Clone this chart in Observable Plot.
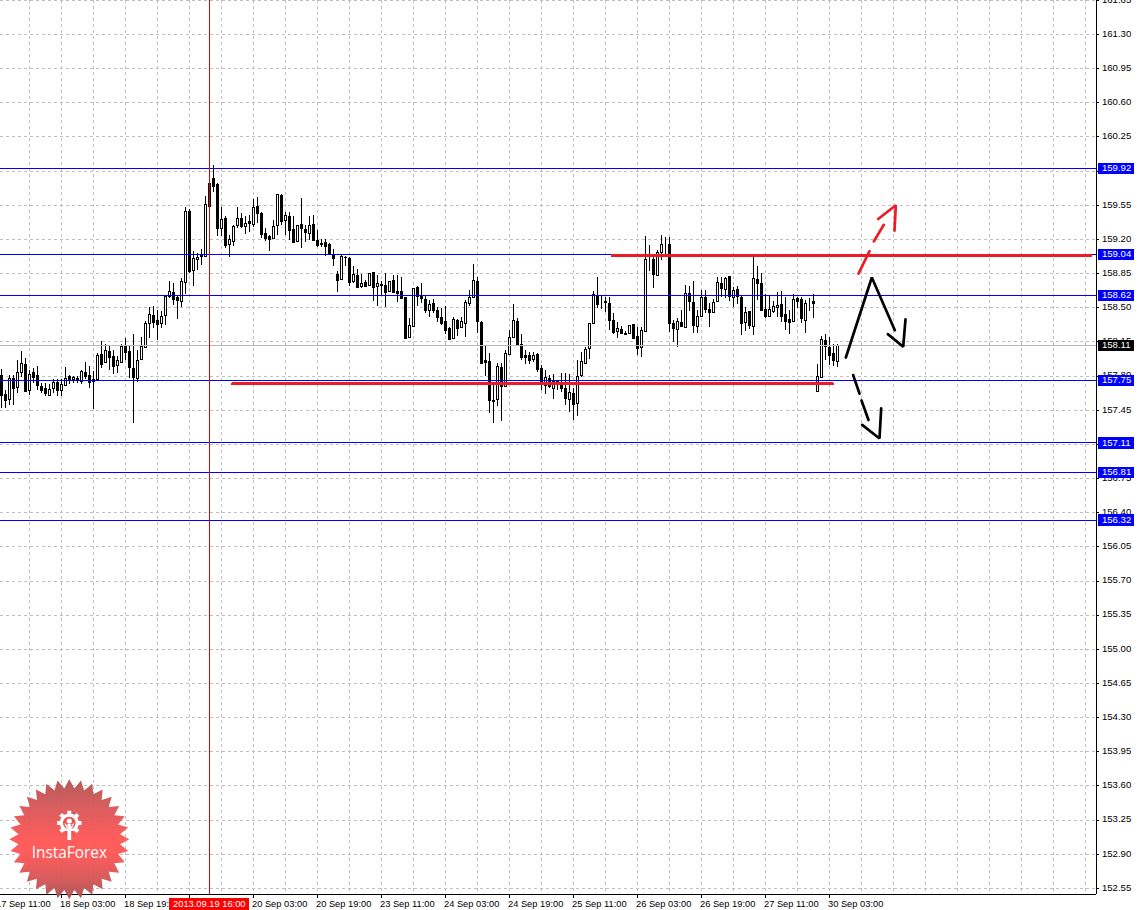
<!DOCTYPE html>
<html>
<head>
<meta charset="utf-8">
<style>html,body{margin:0;padding:0;background:#fff}svg{display:block}</style>
<script src="https://cdn.jsdelivr.net/npm/d3@7"></script>
<script src="https://cdn.jsdelivr.net/npm/@observablehq/plot@0.6"></script>
</head>
<body>
<div id="chart"></div>
<script>
const highs = [
157.87,157.65,157.81,157.81,157.96,158.05,157.98,157.86,157.88,157.90,
157.72,157.72,157.71,157.76,157.76,157.76,157.89,157.81,157.80,157.80,
157.86,157.94,157.90,157.85,158.03,158.15,158.12,158.11,158.06,158.00,
158.12,158.18,158.10,158.23,158.06,158.20,158.36,158.50,158.51,158.47,
158.46,158.63,158.77,158.75,158.63,158.80,159.53,159.51,159.08,159.06,
159.10,159.64,159.80,159.96,159.77,159.53,159.43,159.24,159.34,159.53,
159.47,159.43,159.45,159.61,159.63,159.48,159.31,159.24,159.39,159.66,
159.66,159.48,159.48,159.43,159.34,159.62,159.34,159.43,159.45,159.29,
159.20,159.20,159.16,159.10,158.87,159.04,159.03,159.01,158.92,158.89,
158.84,158.78,158.85,158.86,158.83,158.77,158.85,158.77,158.83,158.83,
158.81,158.61,158.39,158.70,158.72,158.75,158.63,158.57,158.58,158.50,
158.49,158.51,158.30,158.40,158.38,158.40,158.57,158.68,158.94,158.81,
158.36,158.10,158.03,157.72,157.93,157.93,158.06,158.27,158.53,158.39,
158.23,158.06,158.04,158.04,158.03,157.91,157.86,157.81,157.82,157.75,
157.83,157.83,157.82,157.67,157.96,158.04,158.09,158.34,158.67,158.81,
158.62,158.61,158.61,158.44,158.35,158.31,158.26,158.32,158.33,158.30,
158.30,159.23,159.14,159.04,159.09,159.24,159.22,159.22,158.37,158.39,
158.47,158.73,158.72,158.77,158.47,158.68,158.68,158.54,158.58,158.81,
158.81,158.81,158.82,158.71,158.72,158.63,158.50,158.46,159.05,158.92,
158.85,158.64,158.63,158.56,158.66,158.67,158.60,158.47,158.64,158.61,
158.61,158.57,158.59,158.64,157.92,158.21,158.23,158.20,158.12,158.12];
const opens = [
157.81,157.61,157.56,157.77,157.68,157.84,157.92,157.65,157.84,157.81,
157.69,157.67,157.60,157.67,157.73,157.65,157.70,157.80,157.76,157.78,
157.74,157.84,157.81,157.76,157.76,158.02,157.94,158.05,158.00,157.91,
157.94,158.11,158.05,157.88,157.78,157.97,158.09,158.34,158.42,158.37,
158.34,158.42,158.62,158.66,158.60,158.56,158.76,159.49,158.88,158.99,
159.03,159.03,159.77,159.82,159.76,159.31,159.41,159.15,159.18,159.34,
159.41,159.33,159.38,159.35,159.54,159.47,159.26,159.23,159.21,159.34,
159.65,159.39,159.44,159.30,159.18,159.35,159.30,159.26,159.35,159.19,
159.16,159.17,159.15,159.05,158.84,158.79,159.02,159.00,158.77,158.83,
158.72,158.76,158.73,158.86,158.72,158.74,158.73,158.67,158.78,158.67,
158.67,158.60,158.20,158.31,158.71,158.62,158.58,158.47,158.54,158.47,
158.40,158.36,158.29,158.18,158.37,158.30,158.34,158.54,158.60,158.77,
158.35,157.96,157.95,157.55,157.56,157.89,157.69,158.02,158.20,158.36,
158.12,158.01,158.01,157.97,158.02,157.88,157.70,157.78,157.67,157.74,
157.73,157.67,157.56,157.62,157.52,157.81,157.93,158.08,158.34,158.63,
158.55,158.56,158.54,158.37,158.26,158.28,158.24,158.24,158.33,158.21,
158.09,158.26,159.00,158.99,158.83,159.07,159.15,159.15,158.34,158.28,
158.35,158.30,158.65,158.55,158.31,158.41,158.60,158.48,158.45,158.56,
158.75,158.69,158.82,158.61,158.69,158.61,158.35,158.46,158.31,158.79,
158.75,158.48,158.41,158.46,158.50,158.53,158.43,158.38,158.36,158.59,
158.58,158.37,158.55,158.56,157.64,157.79,158.16,158.09,158.03,157.95];
const lows = [
157.47,157.47,157.50,157.50,157.62,157.79,157.64,157.60,157.72,157.65,
157.62,157.59,157.59,157.62,157.59,157.59,157.69,157.71,157.72,157.72,
157.71,157.76,157.67,157.46,157.76,157.88,157.93,157.86,157.82,157.83,
157.94,157.96,157.78,157.31,157.73,157.96,158.08,158.19,158.29,158.16,
158.29,158.32,158.59,158.52,158.38,158.50,158.64,158.85,158.72,158.88,
158.93,159.03,159.53,159.68,159.23,159.23,159.11,159.01,159.13,159.31,
159.31,159.25,159.27,159.32,159.36,159.21,159.18,159.08,159.20,159.24,
159.34,159.24,159.19,159.16,159.17,159.11,159.17,159.19,159.18,159.12,
159.12,159.03,159.05,158.92,158.66,158.78,158.92,158.72,158.75,158.70,
158.70,158.71,158.72,158.56,158.51,158.63,158.50,158.66,158.66,158.55,
158.58,158.18,158.18,158.30,158.51,158.54,158.44,158.40,158.44,158.35,
158.32,158.23,158.17,158.17,158.21,158.29,158.20,158.51,158.59,158.24,
157.92,157.80,157.42,157.31,157.49,157.33,157.68,158.01,158.18,158.10,
157.96,157.92,157.92,157.94,157.84,157.65,157.61,157.67,157.56,157.65,
157.63,157.50,157.43,157.34,157.39,157.79,157.92,157.97,158.33,158.49,
158.48,158.45,158.27,158.23,158.19,158.23,158.22,158.23,158.18,158.01,
157.99,158.26,158.87,158.70,158.82,158.98,159.04,158.25,158.14,158.09,
158.30,158.29,158.46,158.24,158.24,158.40,158.44,158.30,158.44,158.55,
158.61,158.59,158.56,158.50,158.53,158.22,158.26,158.28,158.22,158.57,
158.46,158.39,158.40,158.44,158.40,158.35,158.27,158.23,158.35,158.49,
158.34,158.24,158.46,158.39,157.63,157.79,157.96,157.91,157.90,157.89];
const closes = [
157.60,157.55,157.77,157.67,157.84,157.93,157.64,157.82,157.79,157.70,
157.65,157.62,157.66,157.73,157.65,157.71,157.78,157.76,157.79,157.75,
157.85,157.80,157.73,157.74,158.01,157.92,158.06,157.99,157.90,157.96,
158.10,158.04,157.89,157.79,157.96,158.10,158.34,158.43,158.35,158.33,
158.41,158.62,158.67,158.58,158.57,158.77,159.49,158.87,159.00,159.02,
159.04,159.56,159.54,159.74,159.31,159.40,159.14,159.20,159.33,159.41,
159.33,159.36,159.36,159.53,159.47,159.25,159.21,159.20,159.33,159.66,
159.38,159.45,159.29,159.17,159.34,159.31,159.27,159.34,159.19,159.14,
159.15,159.13,159.06,159.00,158.78,159.03,159.01,158.76,158.84,158.71,
158.75,158.72,158.85,158.71,158.75,158.73,158.66,158.77,158.66,158.65,
158.59,158.19,158.32,158.70,158.62,158.59,158.47,158.53,158.47,158.40,
158.34,158.27,158.17,158.38,158.29,158.36,158.55,158.60,158.78,158.36,
157.93,157.94,157.55,157.54,157.90,157.69,158.03,158.20,158.37,158.11,
157.99,157.99,157.96,158.01,157.87,157.72,157.79,157.69,157.74,157.73,
157.67,157.57,157.63,157.51,157.80,157.95,158.07,158.34,158.64,158.53,
158.55,158.55,158.37,158.25,158.29,158.24,158.23,158.32,158.19,158.08,
158.27,158.99,159.00,158.84,159.07,159.15,159.15,158.34,158.29,158.36,
158.31,158.65,158.56,158.32,158.41,158.61,158.48,158.45,158.55,158.76,
158.70,158.80,158.62,158.68,158.62,158.34,158.45,158.32,158.80,158.75,
158.47,158.41,158.48,158.51,158.52,158.41,158.36,158.35,158.58,158.56,
158.39,158.54,158.55,158.54,157.80,158.17,158.10,158.01,157.96,158.11];

const priceTicks = [161.65,161.30,160.95,160.60,160.25,159.90,159.55,159.20,158.85,158.50,158.15,157.80,157.45,157.10,156.75,156.40,156.05,155.70,155.35,155.00,154.65,154.30,153.95,153.60,153.25,152.90,152.55];
const levelLines = [159.92,159.04,158.62,157.75,157.11,156.81,156.32];
const lastPrice = 158.11;
const dateIndex = [0,16,32,64,80,96,112,128,144,160,176,192,208];
const dateLabels = ["17 Sep 11:00","18 Sep 03:00","18 Sep 19:00","20 Sep 03:00","20 Sep 19:00","23 Sep 11:00","24 Sep 03:00","24 Sep 19:00","25 Sep 11:00","26 Sep 03:00","26 Sep 19:00","27 Sep 11:00","30 Sep 03:00"];
const cursorIndex = 53;
const cursorLabel = "2013.09.19 16:00";
const gridIndex = d3.range(8,273,8);
const axisTickIndex = d3.range(0,209,16);

const supportLine = [{i:58.75,p:157.72},{i:208.75,p:157.72}];
const resistanceLine = [{i:153.75,p:159.035},{i:273.25,p:159.035}];
const redArrow = [[0,215.25,158.85],[0,218,159.08],[1,219.08,159.18],[1,221.58,159.35],[2,220.17,159.41],[2,224.58,159.55],[2,224.25,159.29]];
const blackUp = [[0,212.08,157.99],[0,218.58,158.81],[0,224.33,158.27],[1,222.58,158.23],[1,226.42,158.10],[1,227,158.38]];
const blackDown = [[0,213.92,157.81],[0,215.5,157.62],[1,216,157.55],[1,217.75,157.35],[2,216.17,157.30],[2,220.5,157.16],[2,220.92,157.47]];

const bars = highs.map((h,k)=>({i:k+1,h,o:opens[k],l:lows[k],c:closes[k]}));
const rising = bars.filter(d=>d.c>=d.o);
const falling = bars.filter(d=>d.c<d.o);
const bodyTop = d=>Math.max(d.o,d.c), bodyBot = d=>Math.min(d.o,d.c);

const font = "'Liberation Sans', sans-serif";
const xAxisEnd = 274.75, xLabel = 276.1, xBoxL = 275.25, xBoxR = 284.25;
const yTop = 161.6484, yAxisEnd = 152.4877;
const BLUE = "#0000ff", RED = "#ed1c24", GRID = "#c0c0c0";
const crisp = {shapeRendering:"crispEdges"};

function logo(){
  const cx=69.3, cy=839.3, R=60, r=51, n=32;
  const g = d3.create("svg:g");
  const grad = g.append("defs").append("linearGradient").attr("id","logoGrad").attr("x1",0).attr("x2",0).attr("y1",0).attr("y2",1);
  [[0,"#b24e4e"],[.25,"#d95252"],[.5,"#ff5050"],[.62,"#ff5050"],[.85,"#cf5050"],[1,"#ab4c4c"]].forEach(([o,c])=>grad.append("stop").attr("offset",o).attr("stop-color",c));
  const pts=[];
  for(let k=0;k<n*2;k++){const a=Math.PI*k/n-Math.PI/2, q=k%2?r:R; pts.push([cx+q*Math.cos(a),cy+q*Math.sin(a)]);}
  g.append("polygon").attr("points",pts.map(p=>p.join(",")).join(" ")).attr("fill","url(#logoGrad)").attr("fill-opacity",.93);
  const gy=823, gp=[];
  for(let k=0;k<8;k++){const a0=Math.PI*2*k/8-Math.PI/2;
    [[-.2,9.5],[-.16,12.4],[.16,12.4],[.2,9.5]].forEach(([d,q])=>gp.push([cx+q*Math.cos(a0+d),gy+q*Math.sin(a0+d)]));
    [[.3,9.5],[.48,9.5]].forEach(([d,q])=>gp.push([cx+q*Math.cos(a0+d),gy+q*Math.sin(a0+d)]));}
  g.append("polygon").attr("points",gp.map(p=>p.join(",")).join(" ")).attr("fill","#fff");
  g.append("circle").attr("cx",cx).attr("cy",gy).attr("r",6.3).attr("fill","#f05050");
  g.append("path").attr("d",`M${cx-4.5},${gy+8}L${cx+4.5},${gy+8}L${cx+3},${gy+13}L${cx-3},${gy+13}Z`).attr("fill","#f55050");
  g.append("circle").attr("cx",cx).attr("cy",gy-2).attr("r",2.6).attr("fill","#fff");
  g.append("path").attr("d",`M${cx-1.9},${gy+1}L${cx+1.9},${gy+1}L${cx+1.9},${gy+17}L${cx-1.9},${gy+17}Z`).attr("fill","#fff");
  g.append("path").attr("d",`M${cx-5},${gy+.5}L${cx-3.4},${gy+.5}L${cx-1.9},${gy+4}L${cx-1.9},${gy+7}Z M${cx+5},${gy+.5}L${cx+3.4},${gy+.5}L${cx+1.9},${gy+4}L${cx+1.9},${gy+7}Z`).attr("fill","#fff");
  g.append("text").attr("x",cx).attr("y",858).attr("text-anchor","middle").attr("fill","#fff").attr("font-family","'Open Sans',sans-serif").attr("font-size",15.4).text("InstaForex");
  return g.node();
}

const candleCommon = {x1:d=>d.i-.25,x2:d=>d.i+.25,y1:bodyBot,y2:bodyTop,dx:.5,dy:.5,stroke:"#000",strokeWidth:1,...crisp};
const freehand = (rows,color,w)=>Plot.line(rows,{x:d=>d[1],y:d=>d[2],z:d=>d[0],stroke:color,strokeWidth:w,strokeLinejoin:"miter",curve:"linear"});

const chart = Plot.plot({
  width:1138,height:910,marginTop:0,marginLeft:0,marginRight:42,marginBottom:16,
  style:{background:"#fff",fontFamily:font},
  x:{type:"linear",domain:[0.75,xAxisEnd],range:[0,1096],axis:null},
  y:{type:"linear",domain:[yTop,yAxisEnd],range:[0,894],axis:null},
  marks:[
    Plot.ruleY(priceTicks,{x1:0.75,x2:xAxisEnd,stroke:GRID,strokeDasharray:"3,3",...crisp}),
    Plot.ruleX(gridIndex,{y1:yTop,y2:yAxisEnd,stroke:GRID,strokeDasharray:"3,3",...crisp}),
    Plot.ruleX(bars,{x:"i",y1:"l",y2:"h",stroke:"#000",strokeWidth:1,...crisp}),
    Plot.rect(rising,{...candleCommon,fill:"#fff"}),
    Plot.rect(falling,{...candleCommon,fill:"#000"}),
    Plot.ruleY([lastPrice],{x1:0.75,x2:xAxisEnd,stroke:"#b8b8b8",dy:-.5,...crisp}),
    Plot.ruleY(levelLines,{x1:0.75,x2:xAxisEnd,stroke:BLUE,dy:-.5,...crisp}),
    Plot.ruleX([cursorIndex],{y1:yTop,y2:yAxisEnd,stroke:"#e00000",...crisp}),
    Plot.line(supportLine,{x:"i",y:"p",stroke:RED,strokeWidth:3,...crisp}),
    Plot.line(resistanceLine,{x:"i",y:"p",stroke:RED,strokeWidth:3,...crisp}),
    freehand(redArrow,RED,2.7),
    freehand(blackUp,"#000",2.7),
    freehand(blackDown,"#000",2.7),
    Plot.ruleX([xAxisEnd],{y1:yTop,y2:yAxisEnd,stroke:"#000",...crisp}),
    Plot.ruleY([yAxisEnd],{x1:0.75,x2:xAxisEnd,stroke:"#000",...crisp}),
    Plot.ruleY(priceTicks,{x1:275,x2:275.5,stroke:"#000",...crisp}),
    Plot.ruleX(axisTickIndex,{y1:yAxisEnd,y2:152.447,stroke:"#000",...crisp}),
    Plot.text(priceTicks,{x:xLabel,y:d=>d,dy:-.8,text:d=>d.toFixed(2),textAnchor:"start",fontSize:9.6,fill:"#000"}),
    Plot.text(dateLabels,{x:(d,k)=>dateIndex[k],frameAnchor:"bottom",dy:12,dx:-1.5,text:d=>d,textAnchor:"start",fontSize:9.3,fill:"#000"}),
    Plot.rect(levelLines,{x1:xBoxL,x2:xBoxR,y1:d=>d-.058,y2:d=>d+.058,fill:BLUE,...crisp}),
    Plot.rect([lastPrice],{x1:xBoxL,x2:xBoxR,y1:d=>d-.058,y2:d=>d+.058,fill:"#000",...crisp}),
    Plot.text(levelLines.concat([lastPrice]),{x:xLabel,y:d=>d,dy:-.8,text:d=>d.toFixed(2),textAnchor:"start",fontSize:9.6,fill:"#fff"}),
    Plot.rect([cursorLabel],{x1:43,x2:63,y1:152.447,y2:152.325,fill:"#ff0000",...crisp}),
    Plot.text([cursorLabel],{x:43.9,frameAnchor:"bottom",dy:12,text:d=>d,textAnchor:"start",fontSize:9.3,fill:"#fff"}),
    logo
  ]
});
document.getElementById("chart").appendChild(chart);
</script>
</body>
</html>
